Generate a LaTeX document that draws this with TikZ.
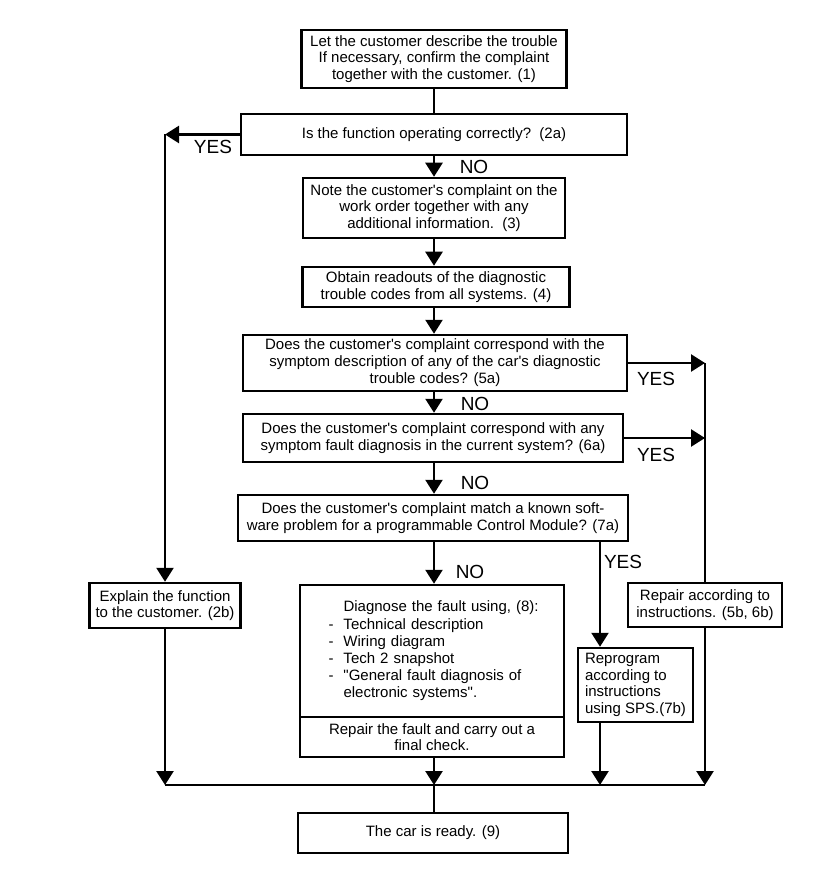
\documentclass[tikz,border=0pt]{standalone}
\usepackage{fontspec}
\setmainfont{Liberation Sans}[Ligatures=TeXOff]
\usetikzlibrary{arrows.meta}

\begin{document}
\begin{tikzpicture}[x=1pt, y=-1pt, line width=2.5pt,
    >={Triangle[width=17pt,length=14pt]},
    box/.style={draw, rectangle, inner sep=2pt, align=center, font=\fontsize{15}{16.5}\selectfont},
    yn/.style={inner sep=0pt, font=\fontsize{19}{19}\selectfont}]
  \useasboundingbox (0,0) rectangle (816,874);
  \coordinate (spine) at (434,0);
  % main column
  \node[box, minimum width=265, minimum height=58] (describe) at (434,59) {Let the customer describe the trouble\\If necessary, confirm the complaint\\together with the customer. (1)};
  \node[box, minimum width=386, minimum height=41] (func) at (434,134.5) {Is the function operating correctly?\ \ (2a)};
  \node[box, minimum width=262, minimum height=60] (note) at (434,208) {Note the customer's complaint on the\\work order together with any\\additional information.\ \ (3)};
  \node[box, minimum width=267, minimum height=40] (readout) at (436,287) {Obtain readouts of the diagnostic\\trouble codes from all systems. (4)};
  \node[box, minimum width=384, minimum height=56, font=\fontsize{15}{17}\selectfont] (dtc) at (435,363) {Does the customer's complaint correspond with the\\symptom description of any of the car's diagnostic\\trouble codes? (5a)};
  \node[box, minimum width=380, minimum height=48, font=\fontsize{15}{17}\selectfont] (symptom) at (433,438) {Does the customer's complaint correspond with any\\symptom fault diagnosis in the current system? (6a)};
  \node[box, minimum width=390, minimum height=46, font=\fontsize{15}{17}\selectfont] (software) at (433,518) {Does the customer's complaint match a known soft-\\ware problem for a programmable Control Module? (7a)};
  \node[box, text width=219pt, inner xsep=22.5pt, minimum height=132, align=left, font=\fontsize{15}{17.2}\selectfont] (diagnose) at (432,651) {\hspace*{21pt}Diagnose the fault using, (8):\\\hspace*{6pt}-\hspace{10pt}Technical description\\\hspace*{6pt}-\hspace{10pt}Wiring diagram\\\hspace*{6pt}-\hspace{10pt}Tech 2 snapshot\\\hspace*{6pt}-\hspace{10pt}"General fault diagnosis of\\\hspace*{21pt}electronic systems".};
  \node[box, minimum width=264, minimum height=40] (repair) at (432,737) {Repair the fault and carry out a\\final check.};
  \node[box, minimum width=270, minimum height=40] (ready) at (433,833) {The car is ready. (9)};
  % side boxes
  \node[box, minimum width=151, minimum height=45] (explain) at (165,605.5) {Explain the function\\to the customer. (2b)};
  \node[box, minimum width=154, minimum height=44] (instr) at (705,605) {Repair according to\\instructions. (5b, 6b)};
  \node[box, minimum width=115, minimum height=74, align=left] (reprog) at (635.5,685) {Reprogram\\according to\\instructions\\using SPS.(7b)};
  % YES / NO
  \node[yn] (yes2) at (213,147) {YES};
  \node[yn] (no2) at (474,167) {NO};
  \node[yn] (yes5) at (656,379) {YES};
  \node[yn] (no5) at (475,404) {NO};
  \node[yn] (yes6) at (656,455) {YES};
  \node[yn] (no6) at (475,483) {NO};
  \node[yn] (no7) at (470,572) {NO};
  \node[yn] (yes7) at (623,562) {YES};
  % helper points
  \coordinate (yesL) at (165,134.5);
  \coordinate (r5) at (dtc.east -| instr.north);
  \coordinate (r6) at (symptom.east -| instr.north);
  \coordinate (col7) at (600,0);
  \coordinate (bus) at (0,785);
  % connectors
  \draw (describe.south -| spine) -- (func.north -| spine);
  \draw[->] (func.south -| spine) -- (note.north -| spine);
  \draw[->] (note.south -| spine) -- (readout.north -| spine);
  \draw[->] (readout.south -| spine) -- (dtc.north -| spine);
  \draw[->] (dtc.south -| spine) -- (symptom.north -| spine);
  \draw[->] (symptom.south -| spine) -- (software.north -| spine);
  \draw[->] (software.south -| spine) -- (diagnose.north -| spine);
  \draw[->] (func.west) -- (yesL);
  \draw[->] (yesL) -- (explain.north);
  \draw[->] (dtc.east) -- (r5);
  \draw[->] (symptom.east) -- (r6);
  \draw (r5) -- (instr.north);
  \draw[->] (software.south -| col7) -- (reprog.north -| col7);
  % collecting line
  \draw (explain.south |- bus) -- (instr.south |- bus);
  \draw[->] (explain.south) -- (explain.south |- bus);
  \draw[->] (repair.south -| spine) -- (bus -| spine);
  \draw[->] (reprog.south -| col7) -- (bus -| col7);
  \draw[->] (instr.south) -- (instr.south |- bus);
  \draw (bus -| spine) -- (ready.north -| spine);
\end{tikzpicture}
\end{document}
